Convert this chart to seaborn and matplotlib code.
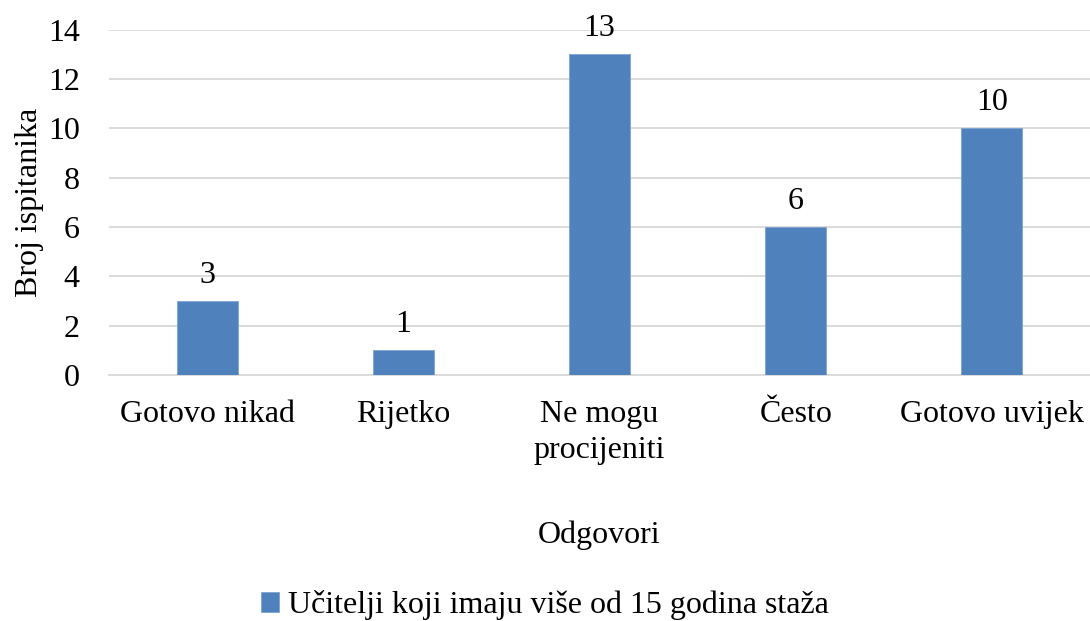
import numpy as np
import pandas as pd
import matplotlib
matplotlib.use("Agg")
import matplotlib.pyplot as plt
import seaborn as sns

sns.set_style("white")
plt.rcParams['font.family'] = ['Liberation Serif', 'DejaVu Serif']
plt.rcParams['text.color'] = 'black'
plt.rcParams['axes.labelcolor'] = 'black'
plt.rcParams['xtick.color'] = 'black'
plt.rcParams['ytick.color'] = 'black'

categories = ["Gotovo nikad", "Rijetko", "Ne mogu\nprocijeniti", "Često", "Gotovo uvijek"]
counts = [3, 1, 13, 6, 10]
series_name = "Učitelji koji imaju više od 15 godina staža"

df = pd.DataFrame({"Odgovori": categories, "Broj": counts})

grid_col = "#D9D9D9"
bar_col = "#4F81BD"
fs = 23

fig = plt.figure(figsize=(10.9, 6.21), dpi=100)
ax = fig.add_axes([0.1, 0.396, 0.9, 0.556])

sns.barplot(data=df, x="Odgovori", y="Broj", color=bar_col, width=0.31, saturation=1,
            label=series_name, ax=ax, edgecolor="#7FA3D3", linewidth=0.6, zorder=3)
if ax.get_legend() is not None:
    ax.get_legend().remove()

ax.bar_label(ax.containers[0], padding=8, fontsize=fs)

ax.set_ylim(0, 14)
ax.set_xlim(-0.5, len(categories) - 0.5)
ax.set_yticks(np.arange(0, 15, 2))
ax.yaxis.grid(True, color=grid_col, linewidth=1.3, zorder=0)
ax.set_axisbelow(True)

for s in ["top", "right", "left"]:
    ax.spines[s].set_visible(False)
ax.spines["bottom"].set_color(grid_col)
ax.spines["bottom"].set_linewidth(1.3)

ax.tick_params(axis="y", length=0, labelsize=fs, pad=21)
ax.tick_params(axis="x", which="major", length=0, labelsize=fs, pad=18)
for lbl in ax.get_xticklabels():
    lbl.set_linespacing(1.3)
ax.set_xticks(np.arange(-0.5, len(categories)), minor=True)
ax.tick_params(axis="x", which="minor", length=9, width=1.3, color=grid_col)

ax.set_ylabel("Broj ispitanika", fontsize=fs, labelpad=3)
ax.set_xlabel("Odgovori", fontsize=fs, labelpad=40)

handles, labels = ax.get_legend_handles_labels()
fig.legend(handles, labels, loc="lower center", bbox_to_anchor=(0.5, -0.045), frameon=False,
           fontsize=fs, handlelength=0.55, handleheight=0.55, handletextpad=0.3)

fig.savefig("out.png", dpi=100)
